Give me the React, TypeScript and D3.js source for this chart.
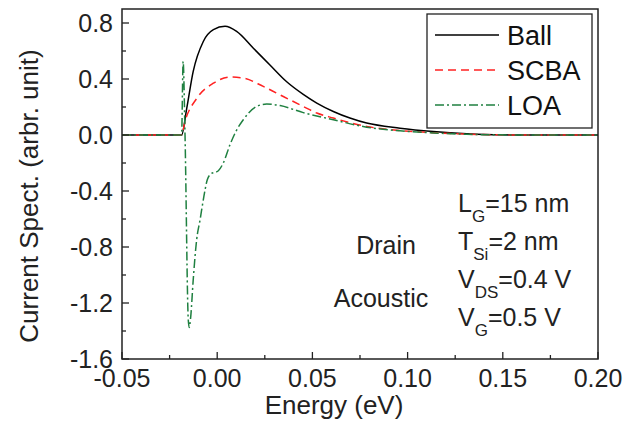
import React from 'react'
import * as d3 from 'd3'

// energy (eV) / current spectrum (arbr. unit)
const ballEnergy = [-0.05, -0.0187, -0.016, -0.0126, -0.0073, -0.002, 0.0041, 0.0102, 0.019, 0.0277, 0.0365, 0.0452, 0.0523, 0.061, 0.0697, 0.0785, 0.096, 0.1135, 0.131, 0.1485, 0.2]
const ballValue = [0, 0, 0.19, 0.454, 0.668, 0.752, 0.776, 0.74, 0.62, 0.5, 0.38, 0.29, 0.228, 0.168, 0.121, 0.085, 0.049, 0.025, 0.009, 0.001, 0]

const scbaEnergy = [-0.05, -0.0187, -0.0169, -0.0108, -0.002, 0.0067, 0.0137, 0.0242, 0.0347, 0.0452, 0.0523, 0.061, 0.0785, 0.096, 0.1135, 0.131, 0.1485, 0.2]
const scbaValue = [0, 0, 0.097, 0.26, 0.37, 0.414, 0.407, 0.347, 0.275, 0.204, 0.157, 0.121, 0.061, 0.032, 0.016, 0.006, 0.001, 0]

const loaEnergy = [-0.05, -0.0187, -0.0179, -0.0169, -0.0152, -0.0147, -0.0139, -0.0126, -0.0108, -0.009, -0.0073, -0.0052, -0.0035, 0.0006, 0.0032, 0.0067, 0.01, 0.0137, 0.0207, 0.026, 0.033, 0.0452, 0.061, 0.0785, 0.096, 0.1135, 0.131, 0.1485, 0.2]
const loaValue = [0, 0, 0.525, 0, -1.32, -1.375, -1.297, -1.035, -0.749, -0.606, -0.463, -0.32, -0.28, -0.255, -0.2, -0.07, 0.03, 0.109, 0.204, 0.221, 0.21, 0.16, 0.109, 0.056, 0.03, 0.015, 0.005, 0.001, 0]

const seriesNames = ['Ball', 'SCBA', 'LOA']
const xTicks = [-0.05, 0, 0.05, 0.1, 0.15, 0.2]
const yTicks = [-1.6, -1.2, -0.8, -0.4, 0, 0.4, 0.8]

const font = '"Liberation Sans", Arial, sans-serif'

export default function App() {
  const x = d3.scaleLinear().domain([-0.05, 0.2]).range([122, 598])
  const y = d3.scaleLinear().domain([-1.6, 0.9]).range([359, 9])

  const line = d3
    .line<[number, number]>()
    .x(d => x(d[0]))
    .y(d => y(d[1]))
    .curve(d3.curveMonotoneX)

  const series = [
    {name: seriesNames[0], pts: d3.zip(ballEnergy, ballValue), color: '#000', dash: undefined},
    {name: seriesNames[1], pts: d3.zip(scbaEnergy, scbaValue), color: '#ff2222', dash: '8 5'},
    {name: seriesNames[2], pts: d3.zip(loaEnergy, loaValue), color: '#1f8040', dash: '9 3 2 3'}
  ]

  // minor ticks halfway between majors
  const xMinor = xTicks.slice(0, -1).map((t, i) => (t + xTicks[i + 1]) / 2)
  const yMinor = yTicks.slice(0, -1).map((t, i) => (t + yTicks[i + 1]) / 2)
  const [x0, x1] = x.range()
  const [y0, y1] = y.range()

  return (
    <svg width={644} height={426} style={{position: 'absolute', left: 0, top: 0, background: '#fff'}} fontFamily={font}>
      <g clipPath="url(#plot)">
        <clipPath id="plot">
          <rect x={x0} y={y1} width={x1 - x0} height={y0 - y1} />
        </clipPath>
        {series.map(s => (
          <path key={s.name} d={line(s.pts as [number, number][]) || ''} fill="none" stroke={s.color} strokeWidth={1.5} strokeDasharray={s.dash} />
        ))}
      </g>

      {/* frame */}
      <rect x={x0} y={y1} width={x1 - x0} height={y0 - y1} fill="none" stroke="#222" strokeWidth={1.5} />

      {/* x ticks, pointing in */}
      {xTicks.map(t => (
        <g key={'x' + t}>
          <line x1={x(t)} x2={x(t)} y1={y0} y2={y0 - 7} stroke="#222" strokeWidth={1.3} />
          <text x={x(t)} y={387} textAnchor="middle" fontSize={25} fill="#222">{t.toFixed(2)}</text>
        </g>
      ))}
      {xMinor.map(t => (
        <line key={'xm' + t} x1={x(t)} x2={x(t)} y1={y0} y2={y0 - 4} stroke="#222" strokeWidth={1.3} />
      ))}

      {/* y ticks */}
      {yTicks.map(t => (
        <g key={'y' + t}>
          <line x1={x0} x2={x0 + 7} y1={y(t)} y2={y(t)} stroke="#222" strokeWidth={1.3} />
          <text x={113} y={y(t) + 9} textAnchor="end" fontSize={25} fill="#222">{t.toFixed(1)}</text>
        </g>
      ))}
      {yMinor.map(t => (
        <line key={'ym' + t} x1={x0} x2={x0 + 4} y1={y(t)} y2={y(t)} stroke="#222" strokeWidth={1.3} />
      ))}

      {/* axis titles */}
      <text x={334} y={414} textAnchor="middle" fontSize={26} fill="#222">Energy (eV)</text>
      <text transform="translate(38,196) rotate(-90)" textAnchor="middle" fontSize={26} fill="#222">Current Spect. (arbr. unit)</text>

      {/* legend */}
      <rect x={427} y={14} width={165} height={114} fill="#fff" stroke="#222" strokeWidth={1.3} />
      {series.map((s, i) => (
        <g key={'lg' + s.name} transform={`translate(0, ${35 + i * 35})`}>
          <line x1={435} x2={499} y1={0} y2={0} stroke={s.color} strokeWidth={1.5} strokeDasharray={s.dash} />
          <text x={507} y={10} fontSize={27} fill="#111">{s.name}</text>
        </g>
      ))}

      {/* annotations */}
      <text x={386} y={254} textAnchor="middle" fontSize={25} fill="#222">Drain</text>
      <text x={381} y={307} textAnchor="middle" fontSize={25} fill="#222">Acoustic</text>

      <g fontSize={25} fill="#222">
        <text x={458} y={212}>L<tspan fontSize={17} dy={10}>G</tspan><tspan dy={-10}>=15 nm</tspan></text>
        <text x={458} y={250}>T<tspan fontSize={17} dy={10}>Si</tspan><tspan dy={-10}>=2 nm</tspan></text>
        <text x={458} y={288}>V<tspan fontSize={17} dy={10}>DS</tspan><tspan dy={-10}>=0.4 V</tspan></text>
        <text x={458} y={326}>V<tspan fontSize={17} dy={10}>G</tspan><tspan dy={-10}>=0.5 V</tspan></text>
      </g>
    </svg>
  )
}
